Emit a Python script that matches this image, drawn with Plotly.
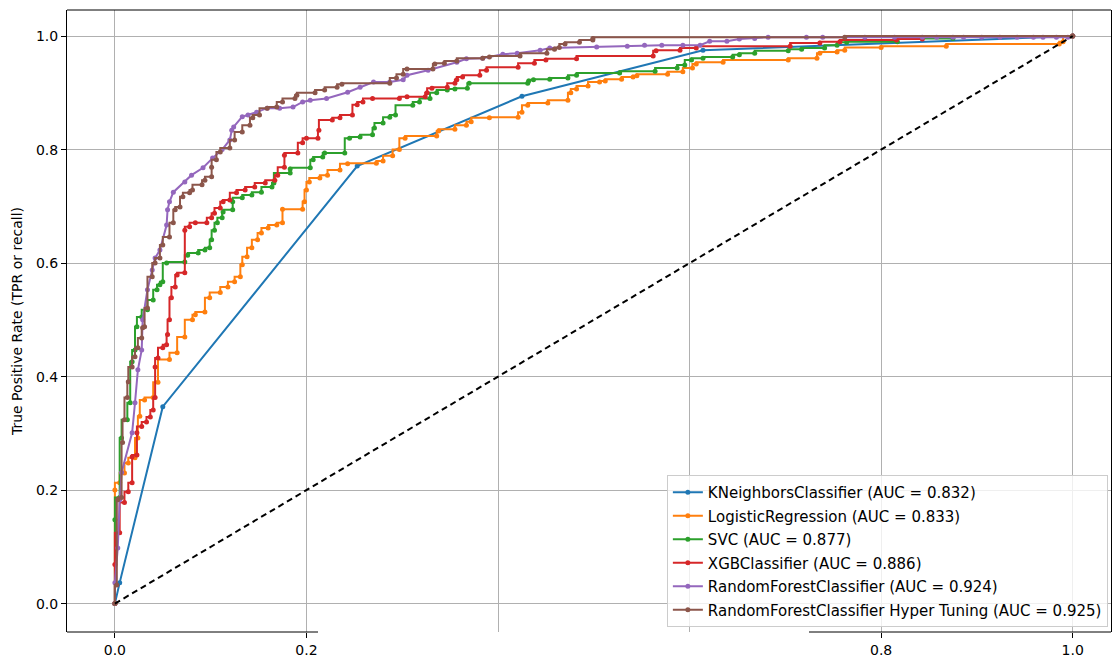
import plotly.graph_objects as go

# ---------------- data ----------------
knn_fpr = [0, 0.005, 0.05, 0.253, 0.425, 0.614, 1.0]
knn_tpr = [0, 0.037, 0.347, 0.771, 0.894, 0.975, 1.0]

lr_fpr = [0, 0, 0.005, 0.01, 0.014, 0.021, 0.024, 0.026, 0.031, 0.04, 0.045, 0.057, 0.065, 0.073,
          0.081, 0.084, 0.094, 0.099, 0.11, 0.118, 0.125, 0.131, 0.133, 0.138, 0.143, 0.149, 0.153,
          0.16, 0.169, 0.175, 0.175, 0.196, 0.198, 0.2, 0.203, 0.214, 0.222, 0.235, 0.243, 0.273,
          0.28, 0.29, 0.297, 0.303, 0.336, 0.338, 0.355, 0.367, 0.372, 0.391, 0.421, 0.425, 0.431,
          0.452, 0.473, 0.476, 0.482, 0.494, 0.506, 0.512, 0.529, 0.541, 0.545, 0.577, 0.593, 0.603,
          0.607, 0.635, 0.703, 0.733, 0.736, 0.754, 0.762, 0.8, 0.868, 0.986, 0.99, 1.0]
lr_tpr = [0, 0.2, 0.213, 0.23, 0.248, 0.257, 0.292, 0.33, 0.359, 0.363, 0.39, 0.43, 0.442, 0.47,
          0.5, 0.509, 0.514, 0.539, 0.548, 0.558, 0.567, 0.576, 0.597, 0.611, 0.627, 0.641, 0.653,
          0.662, 0.667, 0.671, 0.695, 0.695, 0.708, 0.729, 0.743, 0.75, 0.755, 0.764, 0.775, 0.776,
          0.78, 0.789, 0.8, 0.82, 0.824, 0.833, 0.836, 0.843, 0.849, 0.856, 0.857, 0.866, 0.878,
          0.882, 0.887, 0.9, 0.907, 0.912, 0.919, 0.921, 0.924, 0.928, 0.93, 0.933, 0.937, 0.944,
          0.951, 0.954, 0.958, 0.961, 0.97, 0.972, 0.975, 0.98, 0.982, 0.986, 0.99, 1.0]

svc_fpr = [0, 0, 0.005, 0.007, 0.013, 0.016, 0.018, 0.021, 0.023, 0.028, 0.034, 0.04, 0.044, 0.047,
           0.05, 0.054, 0.073, 0.076, 0.087, 0.094, 0.099, 0.101, 0.104, 0.107, 0.112, 0.113, 0.123,
           0.123, 0.133, 0.143, 0.153, 0.164, 0.166, 0.183, 0.183, 0.204, 0.207, 0.217, 0.219, 0.24,
           0.245, 0.256, 0.269, 0.271, 0.28, 0.287, 0.293, 0.311, 0.318, 0.329, 0.336, 0.347, 0.355,
           0.368, 0.37, 0.431, 0.432, 0.437, 0.454, 0.473, 0.482, 0.527, 0.564, 0.587, 0.595, 0.602,
           0.614, 0.645, 0.652, 0.668, 0.703, 0.717, 0.741, 0.754, 0.764, 0.817, 0.875, 1.0]
svc_tpr = [0, 0.148, 0.187, 0.292, 0.324, 0.354, 0.426, 0.447, 0.488, 0.505, 0.518, 0.535, 0.553,
           0.562, 0.567, 0.6, 0.602, 0.614, 0.618, 0.623, 0.627, 0.641, 0.658, 0.671, 0.68, 0.69,
           0.694, 0.708, 0.715, 0.72, 0.725, 0.734, 0.741, 0.759, 0.766, 0.768, 0.782, 0.787, 0.794,
           0.794, 0.82, 0.822, 0.826, 0.838, 0.847, 0.857, 0.861, 0.878, 0.884, 0.89, 0.9, 0.905,
           0.907, 0.908, 0.917, 0.917, 0.921, 0.923, 0.924, 0.926, 0.931, 0.935, 0.938, 0.944, 0.949,
           0.958, 0.961, 0.963, 0.967, 0.97, 0.974, 0.977, 0.979, 0.984, 0.989, 0.99, 0.996, 1.0]

xgb_fpr = [0, 0, 0.005, 0.01, 0.014, 0.018, 0.018, 0.023, 0.023, 0.028, 0.033, 0.037, 0.04, 0.042,
           0.042, 0.045, 0.05, 0.054, 0.055, 0.057, 0.059, 0.063, 0.065, 0.073, 0.073, 0.078, 0.084,
           0.096, 0.101, 0.104, 0.11, 0.113, 0.12, 0.127, 0.136, 0.146, 0.157, 0.167, 0.17, 0.177,
           0.177, 0.191, 0.196, 0.2, 0.212, 0.213, 0.227, 0.235, 0.248, 0.253, 0.259, 0.269, 0.297,
           0.305, 0.324, 0.326, 0.331, 0.347, 0.355, 0.357, 0.363, 0.381, 0.388, 0.421, 0.438, 0.45,
           0.482, 0.562, 0.565, 0.59, 0.607, 0.705, 0.736, 0.757, 0.816, 0.843, 1.0]
xgb_tpr = [0, 0.069, 0.125, 0.178, 0.197, 0.213, 0.259, 0.262, 0.301, 0.312, 0.32, 0.329, 0.341,
           0.363, 0.417, 0.433, 0.451, 0.456, 0.474, 0.5, 0.539, 0.558, 0.579, 0.583, 0.658, 0.664,
           0.671, 0.671, 0.68, 0.688, 0.697, 0.708, 0.711, 0.724, 0.729, 0.734, 0.741, 0.746, 0.755,
           0.769, 0.79, 0.794, 0.812, 0.82, 0.82, 0.834, 0.852, 0.856, 0.861, 0.879, 0.884, 0.89,
           0.89, 0.893, 0.893, 0.9, 0.908, 0.91, 0.917, 0.923, 0.928, 0.931, 0.94, 0.945, 0.952,
           0.958, 0.96, 0.965, 0.974, 0.975, 0.979, 0.982, 0.988, 0.99, 0.993, 0.995, 1.0]

rf_fpr = [0, 0, 0.003, 0.005, 0.007, 0.018, 0.021, 0.024, 0.028, 0.029, 0.034, 0.039, 0.042, 0.047,
          0.054, 0.055, 0.057, 0.061, 0.073, 0.08, 0.092, 0.102, 0.112, 0.12, 0.122, 0.124, 0.133,
          0.139, 0.148, 0.159, 0.172, 0.186, 0.196, 0.204, 0.221, 0.243, 0.256, 0.27, 0.287, 0.301,
          0.305, 0.327, 0.357, 0.367, 0.384, 0.405, 0.42, 0.444, 0.454, 0.503, 0.535, 0.553, 0.571,
          0.593, 0.611, 0.621, 0.639, 0.652, 0.668, 0.682, 0.722, 0.739, 0.783, 0.814, 0.843, 0.858,
          0.875, 0.886, 0.905, 0.924, 0.942, 0.959, 0.969, 0.983, 0.995, 1.0]
rf_tpr = [0, 0.037, 0.098, 0.183, 0.231, 0.301, 0.354, 0.412, 0.447, 0.5, 0.553, 0.588, 0.609,
          0.623, 0.667, 0.694, 0.708, 0.725, 0.743, 0.755, 0.768, 0.785, 0.8, 0.817, 0.834, 0.84,
          0.858, 0.861, 0.866, 0.873, 0.873, 0.875, 0.884, 0.887, 0.89, 0.901, 0.91, 0.919, 0.919,
          0.923, 0.931, 0.94, 0.954, 0.96, 0.961, 0.968, 0.97, 0.975, 0.979, 0.981, 0.982, 0.984,
          0.984, 0.984, 0.984, 0.991, 0.991, 0.995, 0.996, 0.998, 0.998, 0.998, 0.998, 0.998, 0.998,
          0.998, 0.998, 0.998, 0.998, 0.998, 0.998, 0.998, 0.998, 0.998, 0.998, 1.0]

rfh_fpr = [0, 0.002, 0.003, 0.007, 0.008, 0.01, 0.013, 0.014, 0.018, 0.021, 0.024, 0.028, 0.029,
           0.031, 0.034, 0.039, 0.042, 0.047, 0.05, 0.057, 0.061, 0.063, 0.068, 0.071, 0.078, 0.081,
           0.091, 0.094, 0.101, 0.101, 0.106, 0.11, 0.12, 0.125, 0.133, 0.141, 0.144, 0.151, 0.159,
           0.169, 0.175, 0.188, 0.19, 0.209, 0.219, 0.232, 0.237, 0.287, 0.294, 0.301, 0.305, 0.332,
           0.334, 0.344, 0.357, 0.384, 0.391, 0.423, 0.451, 0.459, 0.464, 0.47, 0.485, 0.499, 0.499,
           0.762, 1.0]
rfh_tpr = [0, 0.033, 0.183, 0.187, 0.284, 0.324, 0.363, 0.391, 0.417, 0.435, 0.451, 0.468, 0.486,
           0.488, 0.521, 0.576, 0.6, 0.609, 0.632, 0.646, 0.671, 0.694, 0.699, 0.717, 0.724, 0.729,
           0.738, 0.746, 0.752, 0.769, 0.782, 0.796, 0.803, 0.817, 0.831, 0.843, 0.856, 0.861, 0.873,
           0.875, 0.884, 0.89, 0.896, 0.9, 0.905, 0.91, 0.915, 0.917, 0.926, 0.933, 0.942, 0.942,
           0.951, 0.952, 0.956, 0.961, 0.963, 0.965, 0.97, 0.977, 0.98, 0.986, 0.989, 0.993, 0.996,
           0.998, 1.0]

diag = [0, 1]

series = [
    ("KNeighborsClassifier (AUC = 0.832)", knn_fpr, knn_tpr, "#1f77b4", "linear"),
    ("LogisticRegression (AUC = 0.833)", lr_fpr, lr_tpr, "#ff7f0e", "vh"),
    ("SVC (AUC = 0.877)", svc_fpr, svc_tpr, "#2ca02c", "vh"),
    ("XGBClassifier (AUC = 0.886)", xgb_fpr, xgb_tpr, "#d62728", "vh"),
    ("RandomForestClassifier (AUC = 0.924)", rf_fpr, rf_tpr, "#9467bd", "linear"),
    ("RandomForestClassifier Hyper Tuning (AUC = 0.925)", rfh_fpr, rfh_tpr, "#8c564b", "vh"),
]

FONT = "DejaVu Sans"
fig = go.Figure()
for i, (name, xs, ys, col, shape) in enumerate(series):
    fig.add_trace(go.Scatter(
        x=xs, y=ys, name=name, mode="lines+markers",
        line=dict(color=col, width=2, shape=shape),
        marker=dict(color=col, size=5),
        legendgroup="g%d" % i,
    ))

fig.add_trace(go.Scatter(
    x=diag, y=diag, mode="lines", showlegend=False,
    line=dict(color="black", width=2, dash="6px,4px"),
))

L, R, T, B = 67, 2, 10, 25
W, H = 1113, 657
pw = W - L - R

fig.update_layout(
    width=W, height=H,
    margin=dict(l=L, r=R, t=T, b=B, autoexpand=False),
    paper_bgcolor="white", plot_bgcolor="white",
    font=dict(family=FONT, size=14, color="black"),
    legend=dict(
        x=0.997, y=0.008, xanchor="right", yanchor="bottom",
        bgcolor="rgba(255,255,255,0.8)", bordercolor="#cccccc", borderwidth=1,
        font=dict(family=FONT, size=15, color="black"),
        tracegroupgap=1, itemwidth=30,
    ),
    xaxis=dict(
        range=[-0.05, 1.04], automargin=False,
        tickvals=[0, 0.2, 0.8, 1.0], ticktext=["0.0", "0.2", "0.8", "1.0"],
        ticks="outside", ticklen=5, tickcolor="black",
        showgrid=True, gridcolor="#b0b0b0", gridwidth=1,
        minor=dict(tickvals=[0.4, 0.6], showgrid=True, gridcolor="#b0b0b0", gridwidth=1, ticks=""),
        showline=False, zeroline=False,
    ),
    yaxis=dict(
        range=[-0.05, 1.046], automargin=False,
        tickvals=[0, 0.2, 0.4, 0.6, 0.8, 1.0], tickformat=".1f",
        ticks="outside", ticklen=5, tickcolor="black",
        showgrid=True, gridcolor="#b0b0b0", gridwidth=1,
        showline=True, linecolor="black", linewidth=1, mirror=True,
        zeroline=False,
        title=dict(text="True Positive Rate (TPR or recall)", font=dict(family=FONT, size=14),
                   standoff=10),
    ),
)

# frame: top spine and bottom spine (the bottom has a gap in the reference)
fig.add_shape(type="line", xref="paper", yref="paper", x0=0, x1=1, y0=1, y1=1,
              line=dict(color="black", width=1))
fig.add_shape(type="line", xref="paper", yref="paper", x0=0, x1=(318 - L) / pw, y0=0, y1=0,
              line=dict(color="black", width=1))
fig.add_shape(type="line", xref="paper", yref="paper", x0=(809 - L) / pw, x1=1, y0=0, y1=0,
              line=dict(color="black", width=1))

fig.write_html("out.html")
